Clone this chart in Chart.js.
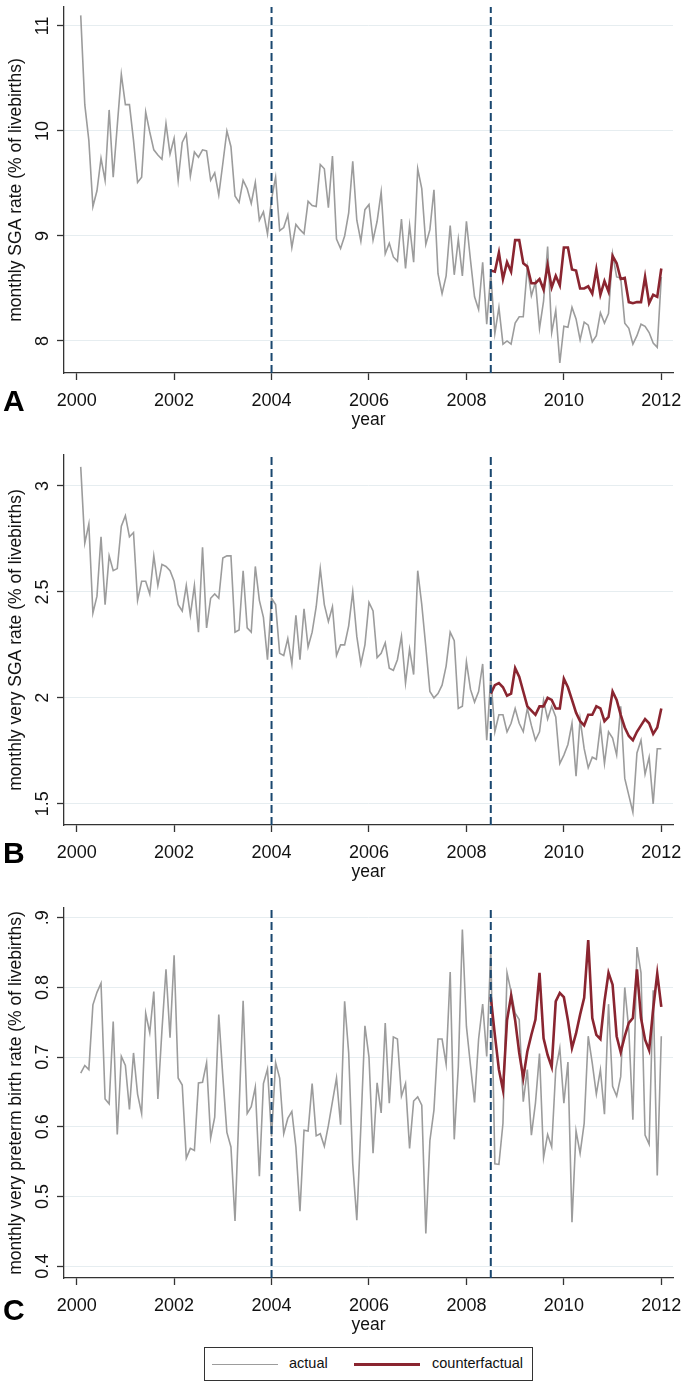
<!DOCTYPE html>
<html>
<head>
<meta charset="utf-8">
<script src="https://cdn.jsdelivr.net/npm/chart.js@4.4.1/dist/chart.umd.min.js"></script>
<style>
  body { margin: 0; background: #fff; width: 685px; height: 1385px; position: relative; overflow: hidden; }
  canvas { position: absolute; left: 0; }
  .letter { position: absolute; left: 3px; font: bold 30px "Liberation Sans", Arial, sans-serif; line-height: 30px; color: #000; }
  #legend { position: absolute; left: 204px; top: 1347px; width: 329px; height: 34px; box-sizing: border-box;
            border: 1.5px solid #333; font: 14.5px "Liberation Sans", Arial, sans-serif; color: #111; }
  #legend .swatch { position: absolute; top: 15.5px; width: 66px; }
  #legend .txt { position: absolute; top: 7px; line-height: 17px; }
</style>
</head>
<body>
<canvas id="panelA" width="685" height="431" style="top:0px"></canvas>
<canvas id="panelB" width="685" height="438" style="top:445px"></canvas>
<canvas id="panelC" width="685" height="438" style="top:898px"></canvas>
<div class="letter" style="top:386px">A</div>
<div class="letter" style="top:838px">B</div>
<div class="letter" style="top:1295px">C</div>
<div id="legend">
  <div class="swatch" style="left:7px; height:1.5px; background:#9c9c9c"></div>
  <div class="txt" style="left:84px">actual</div>
  <div class="swatch" style="left:149px; height:2.5px; top:15px; background:#8a2530"></div>
  <div class="txt" style="left:227px">counterfactual</div>
</div>
<script>
var firstMonth = 2000 + 1 / 12;     // first monthly value
var cfStart = 2008.5;               // counterfactual starts here
var breakYears = [2004, 2008.5];
var yearTicks = [2000, 2002, 2004, 2006, 2008, 2010, 2012];

// panel A: SGA
var sgaActual = [11.1, 10.25, 9.91, 9.28, 9.43, 9.74, 9.53, 10.2, 9.56, 10.05, 10.54, 10.25,
  10.25, 9.91, 9.51, 9.56, 10.18, 9.99, 9.82, 9.77, 9.73, 10.07, 9.78, 9.93,
  9.53, 9.89, 9.97, 9.57, 9.8, 9.75, 9.82, 9.81, 9.53, 9.6, 9.39, 9.69,
  10.0, 9.85, 9.38, 9.32, 9.53, 9.45, 9.31, 9.51, 9.15, 9.23, 9.02, 9.35,
  9.56, 9.05, 9.08, 9.2, 8.89, 9.11, 9.06, 9.02, 9.33, 9.29, 9.28, 9.68,
  9.64, 9.27, 9.76, 8.97, 8.88, 9.0, 9.22, 9.71, 9.15, 8.95, 9.25, 9.3,
  8.96, 9.14, 9.42, 8.83, 8.93, 8.8, 8.76, 9.16, 8.69, 9.1, 8.75, 9.64,
  9.45, 8.92, 9.06, 9.44, 8.64, 8.45, 8.62, 9.1, 8.63, 8.97, 8.62, 9.14,
  8.77, 8.42, 8.3, 8.75, 8.16, 8.64, 8.07, 8.32, 7.97, 8.0, 7.97, 8.17,
  8.23, 8.23, 8.7, 8.43, 8.56, 8.12, 8.38, 8.9, 8.08, 8.29, 7.79, 8.14,
  8.13, 8.32, 8.21, 8.01, 8.18, 8.15, 7.99, 8.05, 8.27, 8.17, 8.26, 8.83,
  8.61, 8.6, 8.17, 8.12, 7.97, 8.05, 8.16, 8.14, 8.08, 7.98, 7.94, 8.61];
var sgaCounterfactual = [8.67, 8.66, 8.84, 8.59, 8.75, 8.66, 8.96, 8.96, 8.74, 8.71, 8.55,
  8.55, 8.59, 8.49, 8.72, 8.51, 8.62, 8.53, 8.89, 8.89, 8.68, 8.67, 8.5,
  8.5, 8.52, 8.45, 8.68, 8.44, 8.57, 8.47, 8.81, 8.74, 8.59, 8.6, 8.37,
  8.36, 8.37, 8.37, 8.61, 8.36, 8.44, 8.42, 8.69];
var sgaTicks = [8, 9, 10, 11];
var sgaTickLabels = ['8', '9', '10', '11'];

// panel B: very SGA
var vsgaActual = [3.09, 2.73, 2.82, 2.40, 2.48, 2.76, 2.44, 2.67, 2.60, 2.61, 2.81, 2.86,
  2.76, 2.78, 2.46, 2.55, 2.55, 2.49, 2.67, 2.53, 2.63, 2.62, 2.60, 2.55,
  2.44, 2.41, 2.53, 2.39, 2.53, 2.31, 2.71, 2.33, 2.47, 2.49, 2.47, 2.66,
  2.67, 2.67, 2.31, 2.32, 2.60, 2.33, 2.31, 2.62, 2.46, 2.38, 2.18, 2.47,
  2.44, 2.21, 2.20, 2.28, 2.16, 2.39, 2.18, 2.42, 2.24, 2.31, 2.43, 2.61,
  2.44, 2.36, 2.43, 2.20, 2.25, 2.25, 2.34, 2.50, 2.29, 2.16, 2.25, 2.45,
  2.41, 2.19, 2.21, 2.26, 2.14, 2.13, 2.18, 2.29, 2.07, 2.23, 2.11, 2.60,
  2.44, 2.24, 2.03, 2.00, 2.02, 2.06, 2.15, 2.31, 2.27, 1.95, 1.96, 2.17,
  2.04, 1.98, 2.03, 2.16, 1.80, 2.10, 1.84, 1.92, 1.92, 1.84, 1.88, 1.95,
  1.88, 1.84, 1.95, 1.87, 1.80, 1.84, 1.99, 1.90, 1.96, 1.91, 1.69, 1.73,
  1.78, 1.88, 1.63, 1.90, 1.76, 1.67, 1.72, 1.71, 1.87, 1.69, 1.84, 1.81,
  1.73, 1.96, 1.62, 1.54, 1.46, 1.74, 1.80, 1.64, 1.72, 1.50, 1.76, 1.76];
var vsgaCounterfactual = [2.02, 2.06, 2.07, 2.05, 2.01, 2.02, 2.14, 2.10, 2.03, 1.96, 1.94,
  1.92, 1.96, 1.96, 2.00, 1.99, 1.95, 1.95, 2.09, 2.05, 1.99, 1.93, 1.89,
  1.87, 1.92, 1.92, 1.96, 1.95, 1.89, 1.91, 2.03, 1.99, 1.92, 1.86, 1.82,
  1.80, 1.84, 1.87, 1.90, 1.88, 1.83, 1.86, 1.95];
var vsgaTicks = [1.5, 2, 2.5, 3];
var vsgaTickLabels = ['1.5', '2', '2.5', '3'];

// panel C: very preterm birth
var vptActual = [0.677, 0.688, 0.682, 0.775, 0.793, 0.806, 0.640, 0.633, 0.751, 0.589, 0.701, 0.688,
  0.625, 0.706, 0.647, 0.619, 0.763, 0.735, 0.794, 0.640, 0.738, 0.826, 0.728, 0.846,
  0.670, 0.660, 0.555, 0.569, 0.566, 0.663, 0.664, 0.692, 0.584, 0.614, 0.761, 0.672,
  0.592, 0.571, 0.465, 0.625, 0.781, 0.619, 0.629, 0.657, 0.529, 0.662, 0.683, 0.586,
  0.692, 0.670, 0.590, 0.612, 0.622, 0.571, 0.479, 0.595, 0.594, 0.662, 0.587, 0.590,
  0.572, 0.602, 0.636, 0.670, 0.603, 0.780, 0.706, 0.547, 0.466, 0.600, 0.745, 0.700,
  0.562, 0.663, 0.620, 0.749, 0.634, 0.729, 0.726, 0.644, 0.662, 0.569, 0.637, 0.643,
  0.631, 0.447, 0.580, 0.624, 0.726, 0.726, 0.690, 0.822, 0.582, 0.686, 0.883, 0.744,
  0.688, 0.635, 0.726, 0.776, 0.701, 0.854, 0.547, 0.546, 0.605, 0.821, 0.794, 0.763,
  0.754, 0.636, 0.682, 0.588, 0.634, 0.705, 0.556, 0.589, 0.571, 0.682, 0.713, 0.634,
  0.693, 0.463, 0.594, 0.562, 0.605, 0.730, 0.691, 0.647, 0.682, 0.618, 0.776, 0.658,
  0.644, 0.672, 0.800, 0.739, 0.610, 0.858, 0.821, 0.588, 0.575, 0.796, 0.530, 0.730];
var vptCounterfactual = [0.786, 0.732, 0.682, 0.653, 0.753, 0.788, 0.753, 0.706, 0.670, 0.708, 0.732,
  0.754, 0.821, 0.727, 0.703, 0.686, 0.780, 0.792, 0.786, 0.753, 0.713, 0.734, 0.761,
  0.785, 0.868, 0.756, 0.732, 0.726, 0.780, 0.821, 0.804, 0.730, 0.707, 0.730, 0.749,
  0.756, 0.826, 0.756, 0.725, 0.710, 0.769, 0.820, 0.772];
var vptTicks = [0.4, 0.5, 0.6, 0.7, 0.8, 0.9];
var vptTickLabels = ['0.4', '0.5', '0.6', '0.7', '0.8', '.9'];

var grayColor = '#9c9c9c';
var redColor = '#8a2530';
var navyColor = '#1a476f';
var axisColor = '#333333';
var gridColor = '#e6edf0';
var fontName = '"Liberation Sans", Arial, sans-serif';

function toPoints(values, start) {
    var pts = [];
    for (var k = 0; k < values.length; k++) {
        pts.push({x: start + k / 12, y: values[k]});
    }
    return pts;
}

function drawPanel(id, actual, counterfactual, yMin, yMax, yTicks, yTickLabels, yTitle, labelPad, padTop) {
    var datasets = [];
    breakYears.forEach(function(yr) {
        datasets.push({
            data: [{x: yr, y: yMin}, {x: yr, y: yMax}],
            borderColor: navyColor, borderWidth: 2, borderDash: [8, 4],
            pointRadius: 0, order: 0
        });
    });
    datasets.push({
        label: 'counterfactual', data: toPoints(counterfactual, cfStart),
        borderColor: redColor, borderWidth: 2.6, pointRadius: 0, tension: 0, order: 1
    });
    datasets.push({
        label: 'actual', data: toPoints(actual, firstMonth),
        borderColor: grayColor, borderWidth: 1.6, pointRadius: 0, tension: 0, order: 2
    });

    var ctx = document.getElementById(id).getContext('2d');
    return new Chart(ctx, {
        type: 'line',
        data: {datasets: datasets},
        options: {
            responsive: false,
            animation: false,
            layout: {padding: {left: 0, right: 12, top: padTop, bottom: 0}},
            plugins: {legend: {display: false}, tooltip: {enabled: false}},
            scales: {
                x: {
                    type: 'linear', min: 1999.74, max: 2012.24,
                    afterBuildTicks: function(s) { s.ticks = yearTicks.map(function(v) { return {value: v}; }); },
                    afterFit: function(s) { s.height = 58; s.paddingLeft = 0; s.paddingRight = 0; },
                    grid: {display: true, drawOnChartArea: false, drawTicks: true, tickLength: 7, tickColor: axisColor, tickWidth: 1.3},
                    border: {display: true, color: axisColor, width: 1.3},
                    ticks: {
                        autoSkip: false, maxRotation: 0, padding: 10, color: '#111',
                        font: {family: fontName, size: 18},
                        callback: function(v) { return String(v); }
                    },
                    title: {display: true, text: 'year', color: '#111', font: {family: fontName, size: 17.5}, padding: {top: 0, bottom: 0}}
                },
                y: {
                    type: 'linear', min: yMin, max: yMax,
                    afterBuildTicks: function(s) { s.ticks = yTicks.map(function(v) { return {value: v}; }); },
                    afterFit: function(s) { s.width = 64; s.paddingTop = 0; s.paddingBottom = 0; },
                    grid: {color: gridColor, lineWidth: 1, drawTicks: true, tickLength: 7, tickColor: axisColor, tickWidth: 1.3},
                    border: {display: true, color: axisColor, width: 1.3},
                    ticks: {
                        minRotation: 90, maxRotation: 90, crossAlign: 'center', padding: labelPad, color: '#111',
                        font: {family: fontName, size: 18},
                        callback: function(v, i) { return yTickLabels[i]; }
                    },
                    title: {display: true, text: yTitle, color: '#111', font: {family: fontName, size: 17.5}, padding: {top: 6, bottom: 0}}
                }
            }
        }
    });
}

drawPanel('panelA', sgaActual, sgaCounterfactual, 7.695, 11.18, sgaTicks, sgaTickLabels,
    'monthly SGA rate (% of livebirths)', 4, 7);
drawPanel('panelB', vsgaActual, vsgaCounterfactual, 1.40, 3.146, vsgaTicks, vsgaTickLabels,
    'monthly very SGA rate (% of livebirths)', 1, 10);
drawPanel('panelC', vptActual, vptCounterfactual, 0.383, 0.914, vptTicks, vptTickLabels,
    'monthly very preterm birth rate (% of livebirths)', 1, 10);
</script>
</body>
</html>
